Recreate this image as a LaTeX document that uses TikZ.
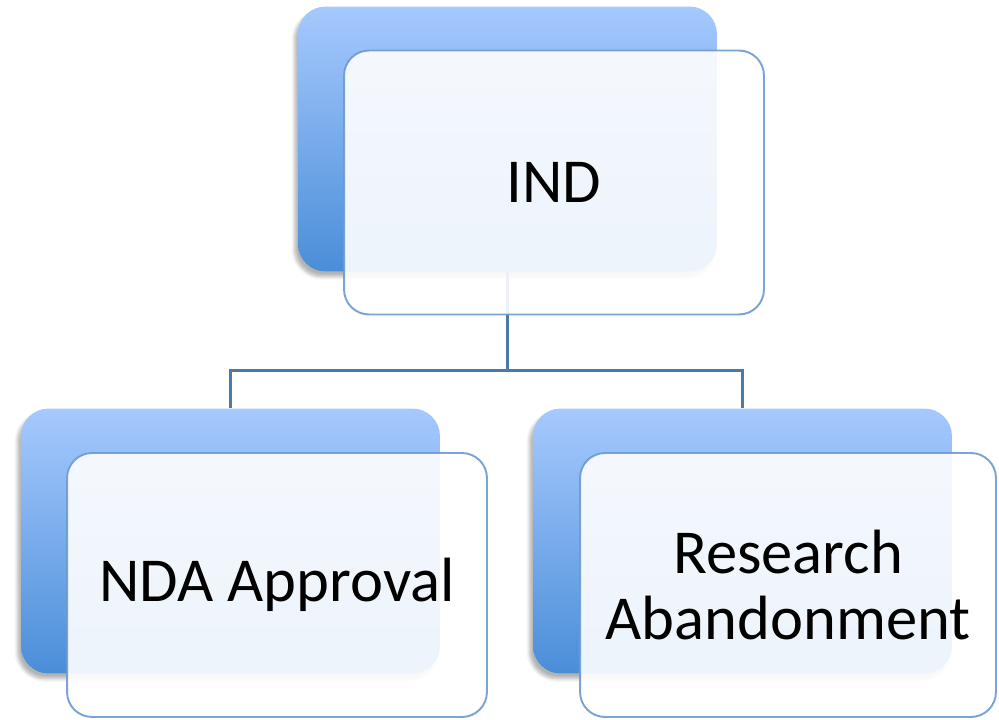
\documentclass[tikz,border=0pt]{standalone}
\usepackage{fontspec}
\setmainfont{Carlito}
\usetikzlibrary{shadows.blur}

\definecolor{backtop}{HTML}{A6C9FE}
\definecolor{backbottom}{HTML}{4A8ED8}
\definecolor{frontline}{HTML}{6C9AD0}
\definecolor{linkline}{HTML}{4A7AAB}

\tikzset{
  backbox/.style={rounded corners=0.55cm, minimum width=8.38cm, minimum height=5.3cm,
    top color=backtop, bottom color=backbottom, draw=none,
    blur shadow={shadow xshift=-2pt, shadow yshift=-3pt, shadow opacity=30, shadow blur steps=6}},
  frontbox/.style={rounded corners=0.5cm, minimum width=8.4cm, minimum height=5.28cm,
    fill=white, fill opacity=0.9, text opacity=1, draw=frontline, draw opacity=0.9,
    line width=1.1pt, align=center, font=\fontsize{35.6}{37.5}\selectfont},
  link/.style={draw=linkline, line width=1.6pt}
}

\begin{document}
\begin{tikzpicture}[x=0.02cm,y=-0.02cm]
    % fix the page size
    \useasboundingbox (0,0) rectangle (999,719);

    % the blue boxes at the back
    \node[backbox] (indback) at (507.5,139) {};
    \node[backbox] (ndaback) at (230.5,541) {};
    \node[backbox] (resback) at (742.5,541) {};

    % the connectors
    \draw[link] (indback.south) -- ++(0,99) coordinate (fork);
    \draw[link] (ndaback.north) |- (fork) -| (resback.north);

    % the boxes in front with the text
    \node[frontbox] (ind) at (554,182.5) {IND};
    \node[frontbox] (nda) at (277,585) {NDA Approval};
    \node[frontbox, minimum width=8.32cm] (res) at (788,585) {Research\\Abandonment};

\end{tikzpicture}
\end{document}
